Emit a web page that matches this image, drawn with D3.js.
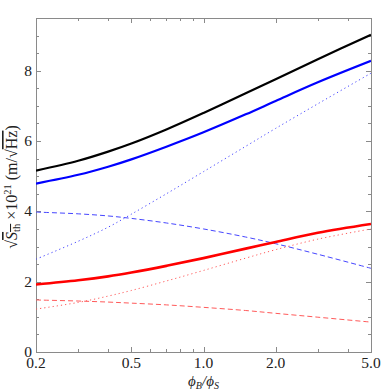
<!DOCTYPE html>
<html>
<head>
<meta charset="utf-8">
<script src="https://cdn.jsdelivr.net/npm/d3@7"></script>
<style>
  body { margin: 0; background: #fff; }
  svg { display: block; }
</style>
</head>
<body>
<div id="viz"></div>
<script>
// ratio phi_B / phi_S (log axis)
const ratio = [0.2, 0.3, 0.4, 0.5, 0.7, 1.0, 1.5, 2.0, 3.0, 5.0];

// blue family
const blueTotal = [4.79, 5.04, 5.27, 5.48, 5.84, 6.25, 6.76, 7.14, 7.67, 8.28];
const blueDotted = [2.64, 3.15, 3.55, 3.92, 4.50, 5.13, 5.85, 6.36, 7.06, 7.93];
const blueDashed = [3.98, 3.93, 3.87, 3.80, 3.67, 3.50, 3.27, 3.08, 2.78, 2.38];

// red family
const redTotal = [1.92, 2.04, 2.15, 2.26, 2.45, 2.67, 2.94, 3.13, 3.39, 3.64];
const redDotted = [1.22, 1.41, 1.59, 1.75, 2.02, 2.32, 2.67, 2.91, 3.21, 3.50];
const redDashed = [1.48, 1.45, 1.42, 1.39, 1.34, 1.27, 1.18, 1.10, 0.99, 0.85];

// combined
const blackTotal = [5.16, 5.44, 5.70, 5.93, 6.33, 6.80, 7.36, 7.76, 8.33, 9.02];

const xMajor = [0.2, 0.5, 1.0, 2.0, 5.0];
const xMinor = [0.3, 0.4, 0.6, 0.7, 0.8, 0.9, 3, 4];
const yMajor = [0, 2, 4, 6, 8];

const width = 381;
const height = 392;
const margin = { top: 18, right: 10, bottom: 40, left: 36 };

const svg = d3.select("#viz")
    .append("svg")
    .attr("width", width)
    .attr("height", height)
    .style("font-family", "'Liberation Serif', 'Times New Roman', serif");

const x = d3.scaleLog()
    .domain([0.2, 5.0])
    .range([margin.left, width - margin.right]);

const y = d3.scaleLinear()
    .domain([0, 9.5])
    .range([height - margin.bottom, margin.top]);

const axisColor = "#8a8a8a";
const x0 = x.range()[0], x1 = x.range()[1];
const y0 = y.range()[0], y1 = y.range()[1];

//Frame
svg.append("rect")
    .attr("x", x0 + 0.5)
    .attr("y", y1 + 0.5)
    .attr("width", x1 - x0)
    .attr("height", y0 - y1)
    .attr("fill", "none")
    .attr("stroke", axisColor)
    .attr("stroke-width", 1);

//Ticks, pointing inward on all four sides
const ticks = svg.append("g").attr("stroke", axisColor).attr("stroke-width", 1);

const xTicks = xMajor.map(v => [v, 5]).concat(xMinor.map(v => [v, 3]));
xTicks.forEach(([v, len]) => {
    const px = Math.round(x(v)) + 0.5;
    ticks.append("line").attr("x1", px).attr("x2", px).attr("y1", y0).attr("y2", y0 - len);
    ticks.append("line").attr("x1", px).attr("x2", px).attr("y1", y1).attr("y2", y1 + len);
});

const yTicks = d3.range(0, 9.51, 0.5).map(v => [v, yMajor.includes(v) ? 5 : 3]);
yTicks.forEach(([v, len]) => {
    const py = Math.round(y(v)) + 0.5;
    ticks.append("line").attr("x1", x0).attr("x2", x0 + len).attr("y1", py).attr("y2", py);
    ticks.append("line").attr("x1", x1).attr("x2", x1 - len).attr("y1", py).attr("y2", py);
});

//Tick labels
svg.append("g")
    .selectAll("text")
    .data(xMajor)
    .join("text")
    .attr("x", d => x(d))
    .attr("y", y0 + 16)
    .attr("text-anchor", "middle")
    .attr("font-size", 15.5)
    .attr("fill", "#222")
    .text(d => d.toFixed(1));

svg.append("g")
    .selectAll("text")
    .data(yMajor)
    .join("text")
    .attr("x", x0 - 4)
    .attr("y", d => y(d) + 5)
    .attr("text-anchor", "end")
    .attr("font-size", 15.5)
    .attr("fill", "#222")
    .text(d => d);

//Curves
const series = [
    { values: blueDotted, color: "#4646ff", width: 1, dash: "1.2,3" },
    { values: blueDashed, color: "#4646ff", width: 1, dash: "5,3" },
    { values: redDotted, color: "#ff5a5a", width: 1, dash: "1.2,3" },
    { values: redDashed, color: "#ff5a5a", width: 1, dash: "5,3" },
    { values: redTotal, color: "#ff0000", width: 2.6, dash: null },
    { values: blueTotal, color: "#0000ff", width: 2.2, dash: null },
    { values: blackTotal, color: "#000000", width: 2.2, dash: null }
];

const line = d3.line()
    .curve(d3.curveCatmullRom.alpha(0.5))
    .x(d => x(d[0]))
    .y(d => y(d[1]));

svg.append("defs")
    .append("clipPath")
    .attr("id", "clip")
    .append("rect")
    .attr("x", x0)
    .attr("y", y1)
    .attr("width", x1 - x0)
    .attr("height", y0 - y1);

svg.append("g")
    .attr("clip-path", "url(#clip)")
    .selectAll("path")
    .data(series)
    .join("path")
    .attr("fill", "none")
    .attr("stroke", d => d.color)
    .attr("stroke-width", d => d.width)
    .attr("stroke-dasharray", d => d.dash)
    .attr("d", d => line(ratio.map((r, i) => [r, d.values[i]])));

//x axis title
const xt = svg.append("text")
    .attr("x", x(1.0))
    .attr("y", 386)
    .attr("text-anchor", "middle")
    .attr("font-size", 15)
    .attr("font-style", "italic")
    .attr("fill", "#222");
xt.append("tspan").text("\u03d5");
xt.append("tspan").attr("font-size", 10).attr("dy", 3).text("B");
xt.append("tspan").attr("dy", -3).text("/\u03d5");
xt.append("tspan").attr("font-size", 10).attr("dy", 3).text("S");

//y axis title
const yt = svg.append("text")
    .attr("transform", `translate(17,187) rotate(-90)`)
    .attr("text-anchor", "middle")
    .attr("font-size", 16)
    .attr("fill", "#222");
yt.append("tspan").text("\u221a");
yt.append("tspan").attr("font-style", "italic").attr("text-decoration", "overline").text("S");
yt.append("tspan").attr("font-size", 10.5).attr("dy", 3).attr("text-decoration", "overline").text("th");
yt.append("tspan").attr("dy", -3).text(" \u00d710");
yt.append("tspan").attr("font-size", 10.5).attr("dy", -6).text("21");
yt.append("tspan").attr("dy", 6).text(" (m/\u221a");
yt.append("tspan").attr("text-decoration", "overline").text("Hz");
yt.append("tspan").text(")");
</script>
</body>
</html>
